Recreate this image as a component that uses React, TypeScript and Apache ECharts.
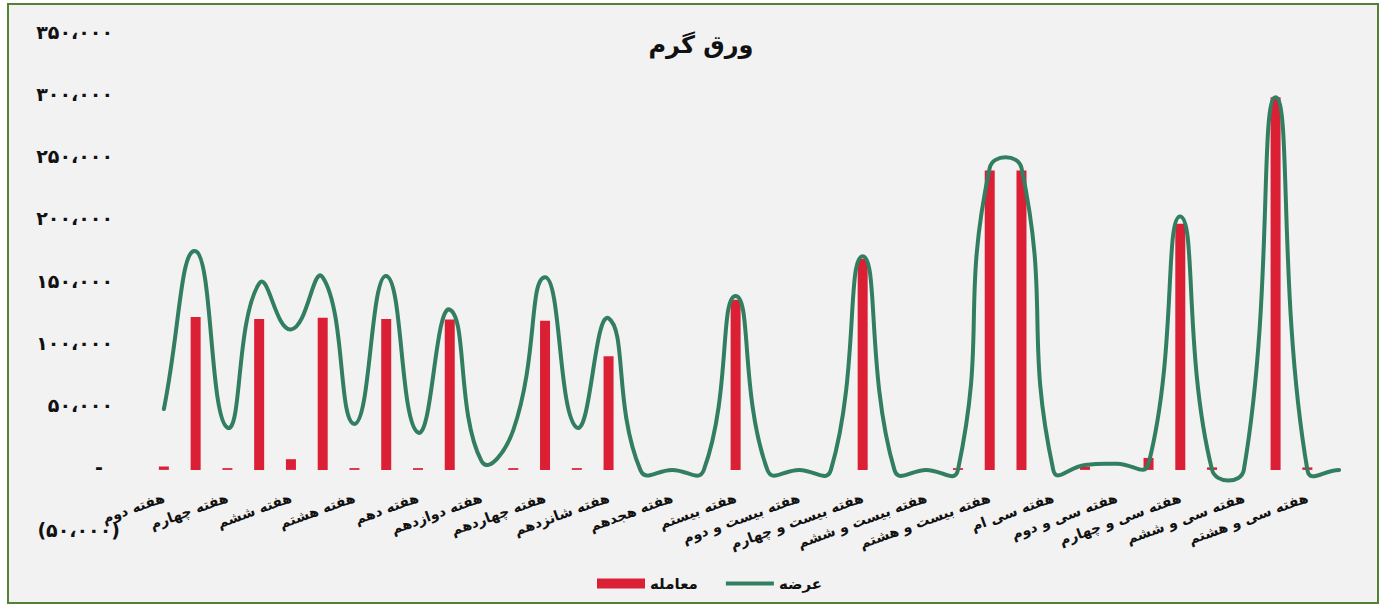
import React, { useEffect, useRef } from 'react';
import * as echarts from 'echarts';

// Weeks 2 .. 39
const weekNames = [
  'دوم', 'سوم', 'چهارم', 'پنجم', 'ششم', 'هفتم', 'هشتم', 'نهم', 'دهم', 'یازدهم',
  'دوازدهم', 'سیزدهم', 'چهاردهم', 'پانزدهم', 'شانزدهم', 'هفدهم', 'هجدهم', 'نوزدهم', 'بیستم',
  'بیست و یکم', 'بیست و دوم', 'بیست و سوم', 'بیست و چهارم', 'بیست و پنجم', 'بیست و ششم',
  'بیست و هفتم', 'بیست و هشتم', 'بیست و نهم', 'سی ام', 'سی و یکم', 'سی و دوم', 'سی و سوم',
  'سی و چهارم', 'سی و پنجم', 'سی و ششم', 'سی و هفتم', 'سی و هشتم', 'سی و نهم',
];
const categories = weekNames.map((w) => 'هفته ' + w);

// عرضه (supply)
const supply = [
  49000, 176000, 34000, 150000, 113000, 155000, 37000, 156000, 30000, 129000,
  7000, 32000, 155000, 34000, 122000, 0, 0, 0, 140000,
  0, 0, 0, 172000, 0, 0, 0, 243000,
  243000, 0, 4000, 5000, 5000, 204000, 0,
  0, 300000, 0, 0,
];

// معامله (traded)
const traded = [
  2700, 123000, 1400, 121500, 8600, 122500, 1400, 121500, 1400, 121000,
  0, 1400, 120000, 1400, 91500, 0, 0, 0, 137000,
  0, 0, 0, 170000, 0, 0, 1400, 241000,
  241000, 0, 2500, 0, 9600, 198000, 2000,
  0, 300000, 2000, 0,
];

const yMin = -50000;
const yMax = 350000;
const yStep = 50000;

const titleText = 'ورق گرم';
const seriesNames = ['معامله', 'عرضه'];

const FA_DIGITS = '۰۱۲۳۴۵۶۷۸۹';
function faNumber(v: number): string {
  const s = Math.abs(v).toString().replace(/\B(?=(\d{3})+(?!\d))/g, '،');
  return s.replace(/\d/g, (d) => FA_DIGITS[+d]);
}
function formatY(v: number): string {
  if (v === 0) return '{z|-}';
  if (v < 0) return '{n|(' + faNumber(v) + ')}';
  return '{p|' + faNumber(v) + '}';
}

const FONT = '"DejaVu Sans", "Noto Sans", sans-serif';
const RED = '#db1f35';
const GREEN = '#327e60';
const SMOOTH = 0.5;

const GRID_TOP = 35;
const GRID_BOTTOM = 74;
const CHART_H = 606;

// Smooth curve (spline through every point, with overshoot like the spreadsheet's smoothed line)
function renderSupply(params: any, api: any) {
  if (params.dataIndex !== 0) return null;
  const pts = supply.map((v, i) => api.coord([i, v]));
  const n = pts.length;
  const cpIn: number[][] = [];
  const cpOut: number[][] = [];
  for (let i = 0; i < n; i++) {
    const p = pts[i];
    const prev = pts[i > 0 ? i - 1 : i];
    const next = pts[i < n - 1 ? i + 1 : i];
    const vx = next[0] - prev[0];
    const vy = next[1] - prev[1];
    const lp = Math.hypot(p[0] - prev[0], p[1] - prev[1]);
    const ln = Math.hypot(next[0] - p[0], next[1] - p[1]);
    const r = lp + ln > 0 ? ln / (lp + ln) : 0.5;
    cpOut.push([p[0] + vx * SMOOTH * r, p[1] + vy * SMOOTH * r]);
    cpIn.push([p[0] - vx * SMOOTH * (1 - r), p[1] - vy * SMOOTH * (1 - r)]);
  }
  let d = 'M' + pts[0][0].toFixed(2) + ' ' + pts[0][1].toFixed(2);
  for (let i = 0; i < n - 1; i++) {
    const a = cpOut[i];
    const b = cpIn[i + 1];
    const c = pts[i + 1];
    d += ' C' + a[0].toFixed(2) + ' ' + a[1].toFixed(2) + ' ' + b[0].toFixed(2) + ' ' + b[1].toFixed(2) + ' ' + c[0].toFixed(2) + ' ' + c[1].toFixed(2);
  }
  return {
    type: 'path',
    shape: { pathData: d },
    style: { fill: 'none', stroke: GREEN, lineWidth: 4, lineJoin: 'round', lineCap: 'round' },
  };
}

export default function App() {
  const ref = useRef<HTMLDivElement>(null);
  useEffect(() => {
    document.body.style.margin = '0';
    if (!ref.current) return;
    const chart = echarts.init(ref.current, undefined, { renderer: 'svg' });
    const yLabelBase = { fontFamily: FONT, fontSize: 19, fontWeight: 'bold', color: '#111' };
    // distance from the grid bottom (min of the value axis) up to the zero line
    const plotH = CHART_H - GRID_TOP - GRID_BOTTOM;
    const zeroUp = (plotH * (0 - yMin)) / (yMax - yMin);
    chart.setOption({
      animation: false,
      backgroundColor: '#ffffff',
      graphic: [
        {
          type: 'rect',
          z: -10,
          shape: { x: 8, y: 4, width: 1370, height: 599 },
          style: { fill: '#f2f2f2', stroke: '#548235', lineWidth: 2 },
        },
      ],
      title: {
        text: titleText,
        left: 696,
        top: 28,
        textAlign: 'center',
        textStyle: { fontFamily: FONT, fontSize: 24, fontWeight: 'bold', color: '#111' },
      },
      legend: {
        data: [
          { name: seriesNames[0], icon: 'rect' },
          { name: seriesNames[1], icon: 'path://M0,0h50v4h-50z' },
        ],
        left: 592,
        top: 571,
        itemWidth: 48,
        itemHeight: 10,
        itemGap: 28,
        textStyle: { fontFamily: FONT, fontSize: 15, fontWeight: 'bold', color: '#111' },
      },
      grid: { left: 148, right: 26, top: GRID_TOP, bottom: GRID_BOTTOM, containLabel: false },
      xAxis: {
        type: 'category',
        data: categories,
        boundaryGap: true,
        position: 'bottom',
        offset: -zeroUp,
        axisLine: { show: false, onZero: false },
        axisTick: { show: false },
        axisLabel: {
          interval: 1,
          rotate: 20,
          margin: 27,
          fontFamily: FONT,
          fontSize: 14,
          fontWeight: 'bold',
          color: '#111',
        },
        splitLine: { show: false },
      },
      yAxis: {
        type: 'value',
        min: yMin,
        max: yMax,
        interval: yStep,
        axisLine: { show: false },
        axisTick: { show: false },
        splitLine: { show: false },
        axisLabel: {
          margin: 28,
          formatter: formatY,
          ...yLabelBase,
          rich: {
            p: { ...yLabelBase, padding: [0, 7, 6, 0] },
            z: { ...yLabelBase, padding: [0, 17, 6, 0] },
            n: { ...yLabelBase, padding: [0, 0, 4, 0] },
          },
        },
      },
      series: [
        {
          name: seriesNames[0],
          type: 'bar',
          data: traded,
          barWidth: 10,
          itemStyle: { color: RED },
          z: 2,
        },
        {
          name: seriesNames[1],
          type: 'custom',
          data: supply.map((v, i) => [i, v]),
          encode: { x: 0, y: 1 },
          renderItem: renderSupply,
          itemStyle: { color: GREEN },
          z: 3,
        },
      ],
    });
    return () => chart.dispose();
  }, []);
  return <div ref={ref} style={{ width: 1381, height: 606 }} />;
}
